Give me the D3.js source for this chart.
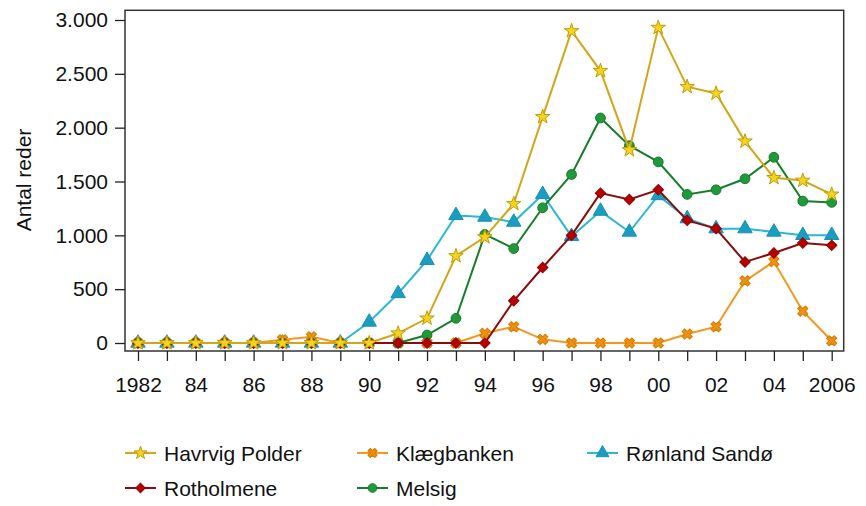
<!DOCTYPE html>
<html><head><meta charset="utf-8">
<script src="https://cdn.jsdelivr.net/npm/d3@7"></script>
<style>
body{margin:0;background:#fff;}
text{font-family:"Liberation Sans",Arial,Helvetica,sans-serif;fill:#111;}
</style></head>
<body><svg id="c" width="866" height="506"></svg>
<script>
const years = d3.range(1982, 2007);
const xTickLabels = {1982:"1982",1984:"84",1986:"86",1988:"88",1990:"90",1992:"92",1994:"94",1996:"96",1998:"98",2000:"00",2002:"02",2004:"04",2006:"2006"};
const yTicks = [0,500,1000,1500,2000,2500,3000];

const havrvig    = [0,0,0,0,0,0,0,0,0,90,229,808,984,1293,2100,2898,2528,1793,2929,2380,2318,1873,1534,1509,1380];
const klaegbanken= [0,0,0,0,0,30,58,0,0,0,0,0,90,151,34,0,0,0,0,83,151,577,756,296,21];
const ronland    = [0,0,0,0,0,0,0,0,195,460,768,1185,1170,1123,1380,990,1225,1031,1370,1155,1062,1062,1031,1000,1000];
const rotholmene = [0,0,0,0,0,0,0,0,0,0,0,0,0,392,701,1000,1392,1333,1423,1139,1062,753,836,929,907];
const melsig     = [0,0,0,0,0,0,0,0,0,0,74,229,1009,877,1256,1565,2090,1833,1682,1380,1423,1525,1725,1318,1306];

const seriesNames = ["Havrvig Polder","Klægbanken","Rønland Sandø","Rotholmene","Melsig"];

const series = [
  {name:seriesNames[2], values:ronland, line:"#2bb7d6", fill:"#1a9dc0", stroke:"#1890b0", sym:d3.symbolTriangle, size:90, rot:0},
  {name:seriesNames[1], values:klaegbanken, line:"#f7961e", fill:"#f09010", stroke:"#d47c00", sym:d3.symbolCross, size:65, rot:45},
  {name:seriesNames[4], values:melsig, line:"#177d2c", fill:"#1f9a3a", stroke:"#157a2a", sym:d3.symbolCircle, size:75, rot:0},
  {name:seriesNames[3], values:rotholmene, line:"#8a0b0b", fill:"#b80000", stroke:"#900000", sym:d3.symbolSquare, size:55, rot:45},
  {name:seriesNames[0], values:havrvig, line:"#d2a61a", fill:"#f4d41c", stroke:"#c49a08", sym:d3.symbolStar, size:65, rot:0}
];

const svg = d3.select("#c");
const L=125, R=843.7, T=10.3, B=351;
const x = d3.scaleLinear().domain([1982,2006]).range([138,831.7]);
const y = d3.scaleLinear().domain([0,3000]).range([343,20]);

// frame
svg.append("rect").attr("x",L).attr("y",T).attr("width",R-L).attr("height",B-T)
  .attr("fill","none").attr("stroke","#333").attr("stroke-width",1.5);

// y axis
const ya = svg.append("g").attr("transform",`translate(${L},0)`)
  .call(d3.axisLeft(y).tickValues(yTicks).tickSize(10).tickPadding(7)
    .tickFormat(d => d3.format(",")(d).replace(/,/g,".")));
ya.select(".domain").remove();
ya.selectAll(".tick line").attr("stroke","#222").attr("stroke-width",1.3);
ya.selectAll(".tick text").attr("font-size",21).attr("fill","#111");

// x axis
const xa = svg.append("g").attr("transform",`translate(0,${B})`)
  .call(d3.axisBottom(x).tickValues(years).tickSize(10).tickPadding(16)
    .tickFormat(d => xTickLabels[d] || ""));
xa.select(".domain").remove();
xa.selectAll(".tick line").attr("stroke","#222").attr("stroke-width",1.3);
xa.selectAll(".tick text").attr("font-size",21).attr("fill","#111");

// y label
svg.append("text").attr("transform","translate(31,180) rotate(-90)")
  .attr("text-anchor","middle").attr("font-size",21).text("Antal reder");

const line = d3.line().x((d,i)=>x(years[i])).y(d=>y(d));
series.forEach(s=>{
  const g = svg.append("g");
  g.append("path").datum(s.values).attr("d",line).attr("fill","none")
    .attr("stroke",s.line).attr("stroke-width",2);
  g.selectAll("path.m").data(s.values).enter().append("path").attr("class","m")
    .attr("d",d3.symbol().type(s.sym).size(s.size))
    .attr("transform",(d,i)=>`translate(${x(years[i])},${y(d)}) rotate(${s.rot})`)
    .attr("fill",s.fill).attr("stroke",s.stroke).attr("stroke-width",1);
});

// legend
const legendPos = [
  {name:seriesNames[0], lx:125, ty:453},
  {name:seriesNames[1], lx:357, ty:453},
  {name:seriesNames[2], lx:587, ty:453},
  {name:seriesNames[3], lx:125, ty:488},
  {name:seriesNames[4], lx:357, ty:488}
];
legendPos.forEach(p=>{
  const s = series.find(d=>d.name===p.name);
  const g = svg.append("g");
  g.append("line").attr("x1",p.lx).attr("x2",p.lx+31).attr("y1",p.ty).attr("y2",p.ty)
    .attr("stroke",s.line).attr("stroke-width",2);
  g.append("path").attr("d",d3.symbol().type(s.sym).size(s.size*0.8))
    .attr("transform",`translate(${p.lx+15.5},${p.ty}) rotate(${s.rot})`)
    .attr("fill",s.fill).attr("stroke",s.stroke).attr("stroke-width",1);
  g.append("text").attr("x",p.lx+39).attr("y",p.ty).attr("dy","0.36em")
    .attr("font-size",21).text(p.name);
});
</script></body></html>
